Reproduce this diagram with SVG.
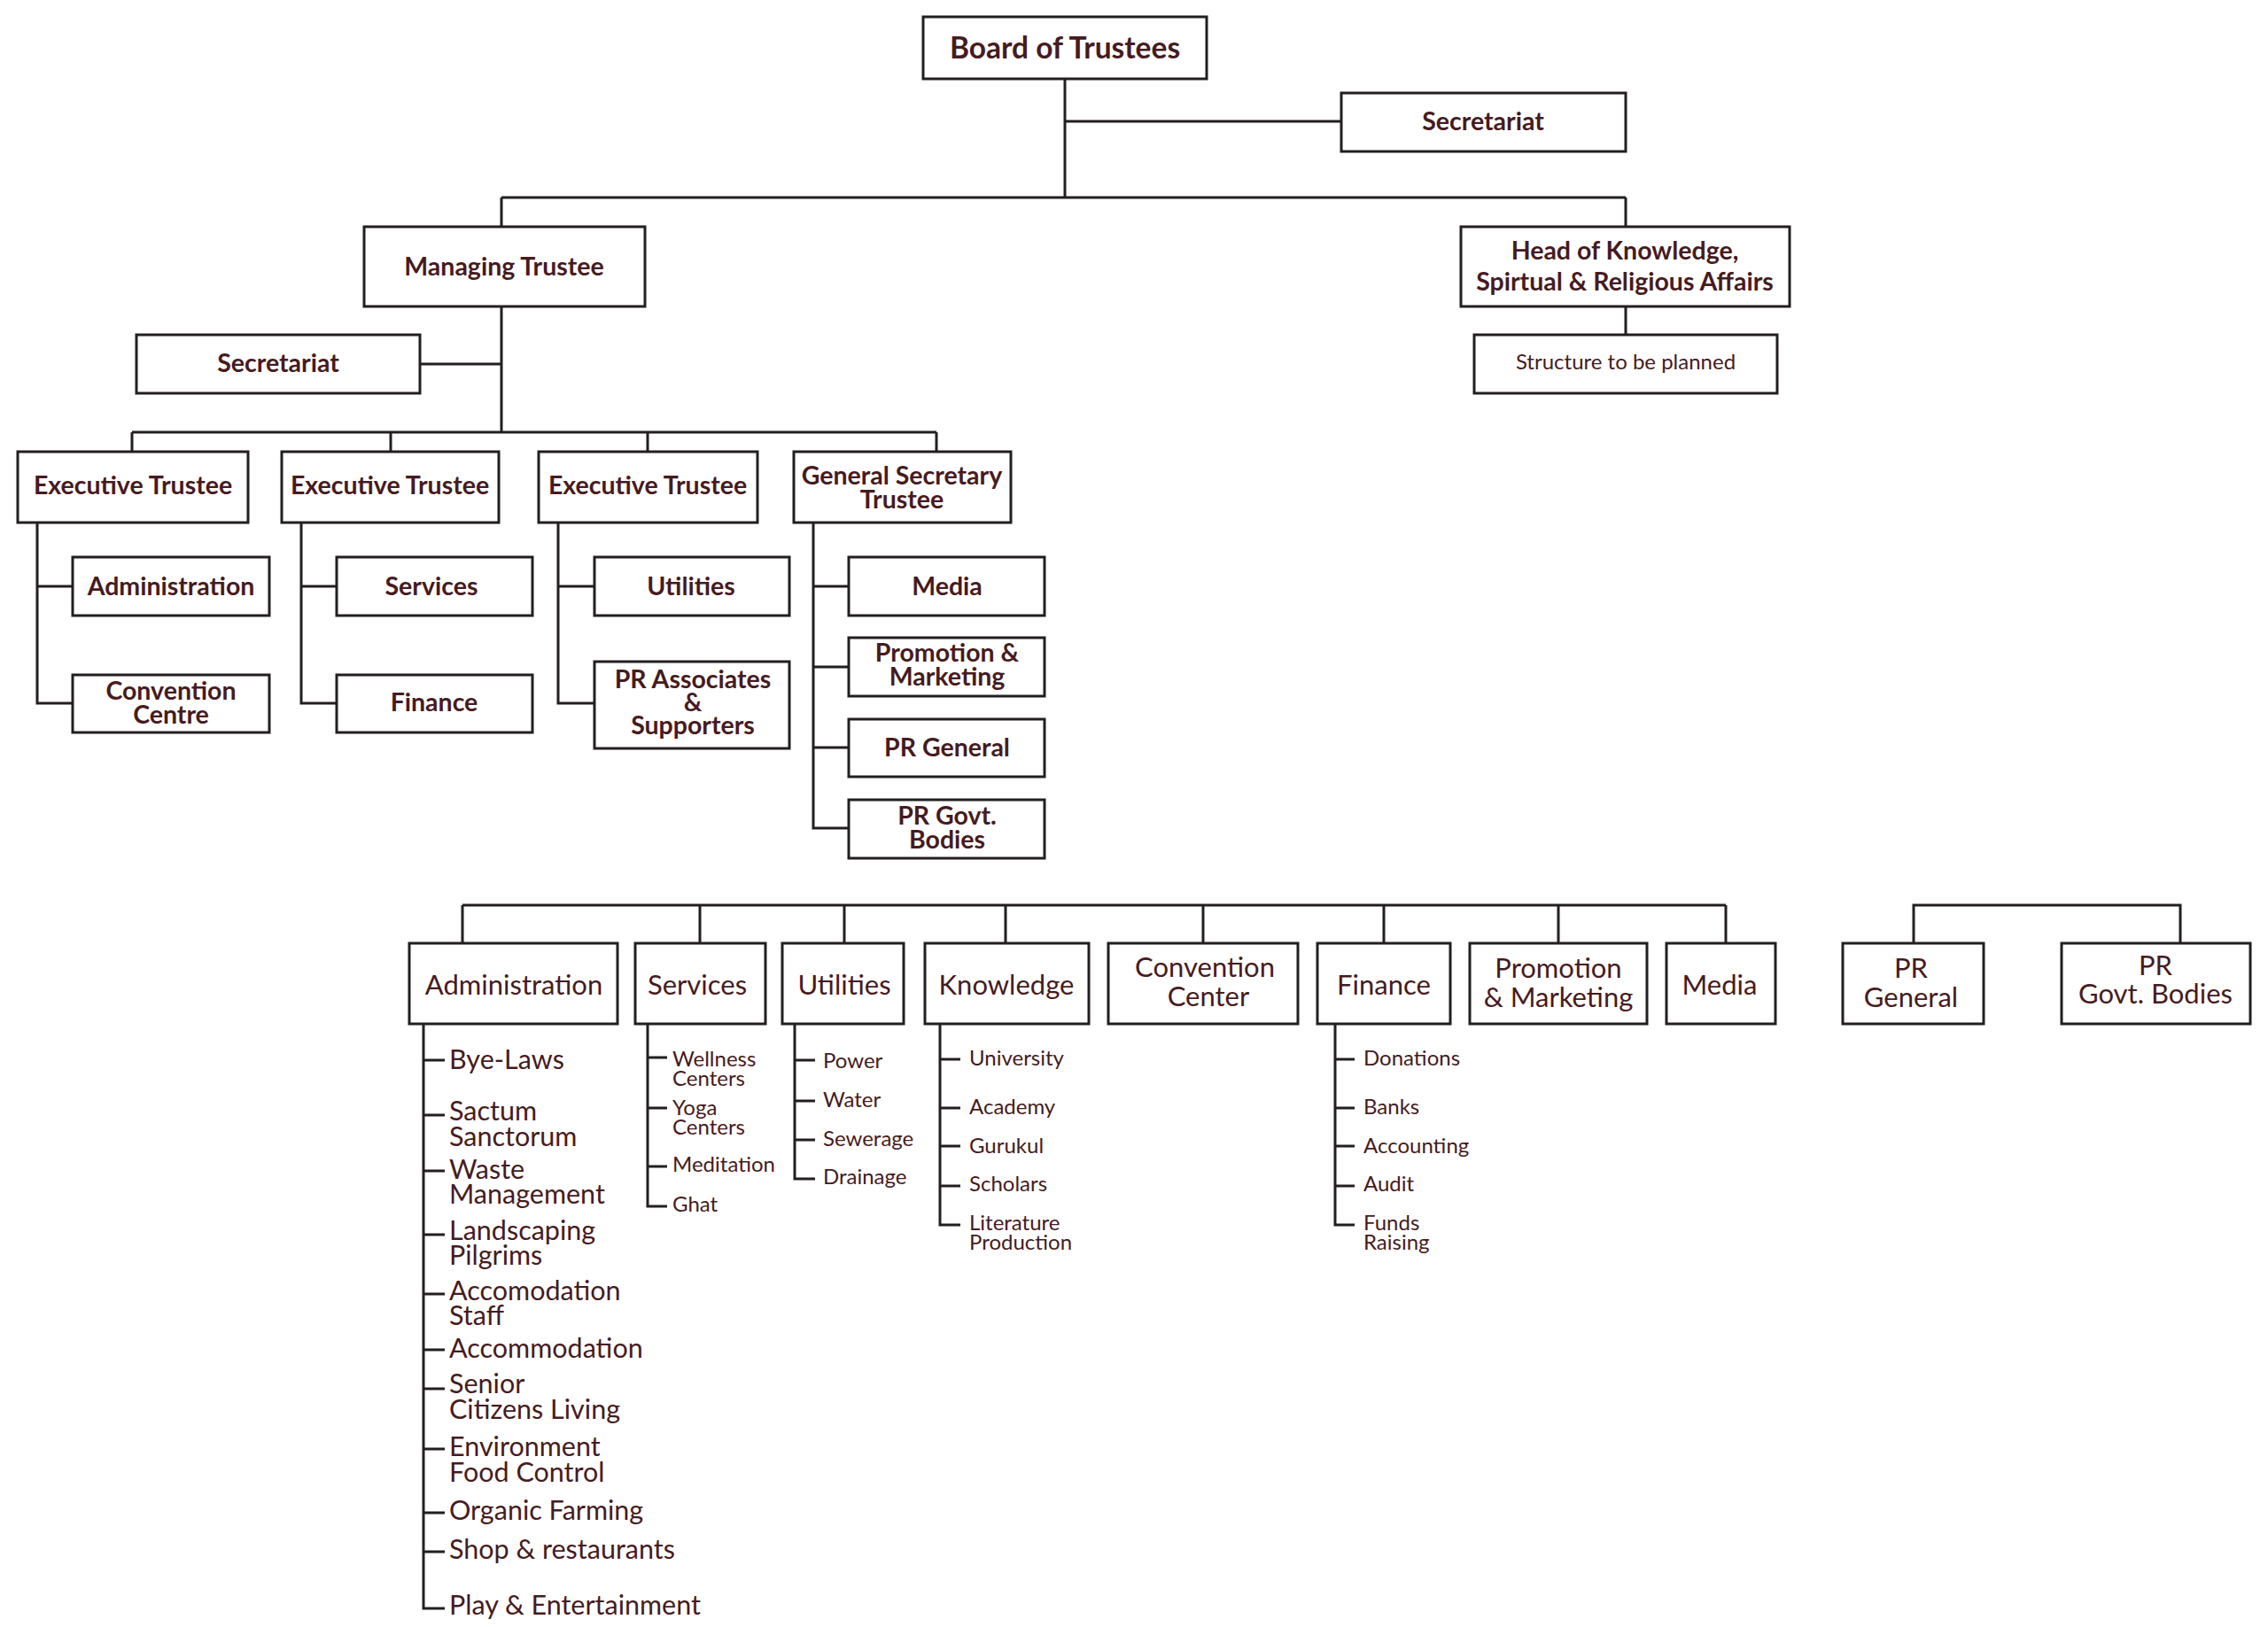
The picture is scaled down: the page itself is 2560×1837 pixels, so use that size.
<svg xmlns="http://www.w3.org/2000/svg" width="2560" height="1837" viewBox="0 0 2560 1837">
<style>
.b{fill:#fff;stroke:#231f20;stroke-width:3}
.c{fill:none;stroke:#231f20;stroke-width:3}
text{font-family:Lato,"Open Sans",sans-serif;fill:#461b21}
.t1{font-size:33.5px;font-weight:700;text-anchor:middle}
.t2{font-size:28.5px;font-weight:700;text-anchor:middle}
.t3{font-size:31px;text-anchor:middle}
.t4{font-size:30.5px}
.t5{font-size:24px}
.t6{font-size:24px;text-anchor:middle}
</style>
<rect width="2560" height="1837" fill="#fff"/>
<g id="connectors" class="c">
<path d="M1202 89V223M1202 137H1514M566 223H1835M566 223V256M1835 223V256M1835 346V378"/>
<path d="M566 346V488M474 411H566M149 488H1057M149 488V510M441 488V510M731 488V510M1057 488V510"/>
<path d="M42 590V794H82M42 662H82"/>
<path d="M340 590V794H380M340 662H380"/>
<path d="M630 590V794H671M630 662H671"/>
<path d="M918 590V935H958M918 662H958M918 753H958M918 844H958"/>
<path d="M522 1022H1948M522 1022V1065M790 1022V1065M953 1022V1065M1135 1022V1065M1358 1022V1065M1562 1022V1065M1759 1022V1065M1948 1022V1065"/>
<path d="M2160 1065V1022H2461V1065"/>
<path d="M478 1156V1816H502M478 1197H502M478 1259H502M478 1322H502M478 1394H502M478 1461H502M478 1524H502M478 1568H502M478 1636H502M478 1708H502M478 1752H502"/>
<path d="M731 1156V1362H753M731 1194H753M731 1251H753M731 1317H753"/>
<path d="M897 1156V1331H920M897 1197H920M897 1243H920M897 1287H920"/>
<path d="M1061 1156V1383H1084M1061 1196H1084M1061 1251H1084M1061 1294H1084M1061 1339H1084"/>
<path d="M1507 1156V1383H1529M1507 1196H1529M1507 1251H1529M1507 1294H1529M1507 1339H1529"/>
</g>
<g id="board"><rect class="b" x="1042" y="19" width="320" height="70"/><text class="t1" x="1202" y="66">Board of Trustees</text></g>
<g id="secretariat1"><rect class="b" x="1514" y="105" width="321" height="66"/><text class="t2" x="1674" y="147">Secretariat</text></g>
<g id="managing"><rect class="b" x="411" y="256" width="317" height="90"/><text class="t2" x="569" y="311">Managing Trustee</text></g>
<g id="head"><rect class="b" x="1649" y="256" width="371" height="90"/><text class="t2" x="1834" y="293">Head of Knowledge,</text><text class="t2" x="1834" y="328">Spirtual &amp; Religious Affairs</text></g>
<g id="structure"><rect class="b" x="1664" y="378" width="342" height="66"/><text class="t6" x="1835" y="417">Structure to be planned</text></g>
<g id="secretariat2"><rect class="b" x="154" y="378" width="320" height="66"/><text class="t2" x="314" y="420">Secretariat</text></g>
<g id="exec1"><rect class="b" x="20" y="510" width="260" height="80"/><text class="t2" x="150" y="558">Executive Trustee</text></g>
<g id="exec2"><rect class="b" x="318" y="510" width="245" height="80"/><text class="t2" x="440" y="558">Executive Trustee</text></g>
<g id="exec3"><rect class="b" x="608" y="510" width="247" height="80"/><text class="t2" x="731" y="558">Executive Trustee</text></g>
<g id="gensec"><rect class="b" x="896" y="510" width="245" height="80"/><text class="t2" x="1018" y="547">General Secretary</text><text class="t2" x="1018" y="574">Trustee</text></g>
<g id="e1-admin"><rect class="b" x="82" y="629" width="222" height="66"/><text class="t2" x="193" y="672">Administration</text></g>
<g id="e1-conv"><rect class="b" x="82" y="762" width="222" height="65"/><text class="t2" x="193" y="790">Convention</text><text class="t2" x="193" y="817">Centre</text></g>
<g id="e2-services"><rect class="b" x="380" y="629" width="221" height="66"/><text class="t2" x="487" y="672">Services</text></g>
<g id="e2-finance"><rect class="b" x="380" y="762" width="221" height="65"/><text class="t2" x="490" y="803">Finance</text></g>
<g id="e3-utilities"><rect class="b" x="671" y="629" width="220" height="66"/><text class="t2" x="780" y="672">Utilities</text></g>
<g id="e3-pr"><rect class="b" x="671" y="747" width="220" height="98"/><text class="t2" x="782" y="777">PR Associates</text><text class="t2" x="782" y="803">&amp;</text><text class="t2" x="782" y="829">Supporters</text></g>
<g id="g-media"><rect class="b" x="958" y="629" width="221" height="66"/><text class="t2" x="1069" y="672">Media</text></g>
<g id="g-promo"><rect class="b" x="958" y="720" width="221" height="66"/><text class="t2" x="1069" y="747">Promotion &amp;</text><text class="t2" x="1069" y="774">Marketing</text></g>
<g id="g-prgen"><rect class="b" x="958" y="812" width="221" height="65"/><text class="t2" x="1069" y="854">PR General</text></g>
<g id="g-prgov"><rect class="b" x="958" y="903" width="221" height="66"/><text class="t2" x="1069" y="931">PR Govt.</text><text class="t2" x="1069" y="958">Bodies</text></g>
<g id="administration"><rect class="b" x="462" y="1065" width="235" height="91"/><text class="t3" x="580" y="1123">Administration</text>
<text class="t4" x="507" y="1207">Bye-Laws</text>
<text class="t4" x="507" y="1265">Sactum</text><text class="t4" x="507" y="1294">Sanctorum</text>
<text class="t4" x="507" y="1331">Waste</text><text class="t4" x="507" y="1359">Management</text>
<text class="t4" x="507" y="1400">Landscaping</text><text class="t4" x="507" y="1428">Pilgrims</text>
<text class="t4" x="507" y="1468">Accomodation</text><text class="t4" x="507" y="1496">Staff</text>
<text class="t4" x="507" y="1533">Accommodation</text>
<text class="t4" x="507" y="1573">Senior</text><text class="t4" x="507" y="1602">Citizens Living</text>
<text class="t4" x="507" y="1644">Environment</text><text class="t4" x="507" y="1673">Food Control</text>
<text class="t4" x="507" y="1716">Organic Farming</text>
<text class="t4" x="507" y="1760">Shop &amp; restaurants</text>
<text class="t4" x="507" y="1823">Play &amp; Entertainment</text></g>
<g id="services"><rect class="b" x="717" y="1065" width="147" height="91"/><text class="t3" x="787" y="1123">Services</text>
<text class="t5" x="759" y="1204">Wellness</text><text class="t5" x="759" y="1226">Centers</text>
<text class="t5" x="759" y="1259">Yoga</text><text class="t5" x="759" y="1281">Centers</text>
<text class="t5" x="759" y="1323">Meditation</text>
<text class="t5" x="759" y="1368">Ghat</text></g>
<g id="utilities"><rect class="b" x="883" y="1065" width="137" height="91"/><text class="t3" x="953" y="1123">Utilities</text>
<text class="t5" x="929" y="1206">Power</text>
<text class="t5" x="929" y="1250">Water</text>
<text class="t5" x="929" y="1294">Sewerage</text>
<text class="t5" x="929" y="1337">Drainage</text></g>
<g id="knowledge"><rect class="b" x="1044" y="1065" width="185" height="91"/><text class="t3" x="1136" y="1123">Knowledge</text>
<text class="t5" x="1094" y="1203">University</text>
<text class="t5" x="1094" y="1258">Academy</text>
<text class="t5" x="1094" y="1302">Gurukul</text>
<text class="t5" x="1094" y="1345">Scholars</text>
<text class="t5" x="1094" y="1389">Literature</text><text class="t5" x="1094" y="1411">Production</text></g>
<g id="convention"><rect class="b" x="1251" y="1065" width="214" height="91"/><text class="t3" x="1360" y="1103">Convention</text><text class="t3" x="1364" y="1136">Center</text></g>
<g id="finance"><rect class="b" x="1487" y="1065" width="150" height="91"/><text class="t3" x="1562" y="1123">Finance</text>
<text class="t5" x="1539" y="1203">Donations</text>
<text class="t5" x="1539" y="1258">Banks</text>
<text class="t5" x="1539" y="1302">Accounting</text>
<text class="t5" x="1539" y="1345">Audit</text>
<text class="t5" x="1539" y="1389">Funds</text><text class="t5" x="1539" y="1411">Raising</text></g>
<g id="promotion"><rect class="b" x="1659" y="1065" width="200" height="91"/><text class="t3" x="1759" y="1104">Promotion</text><text class="t3" x="1759" y="1137">&amp; Marketing</text></g>
<g id="media"><rect class="b" x="1881" y="1065" width="123" height="91"/><text class="t3" x="1941" y="1123">Media</text></g>
<g id="prgeneral"><rect class="b" x="2080" y="1065" width="159" height="91"/><text class="t3" x="2157" y="1104">PR</text><text class="t3" x="2157" y="1137">General</text></g>
<g id="prgovt"><rect class="b" x="2327" y="1065" width="213" height="91"/><text class="t3" x="2433" y="1101">PR</text><text class="t3" x="2433" y="1133">Govt. Bodies</text></g>
</svg>
